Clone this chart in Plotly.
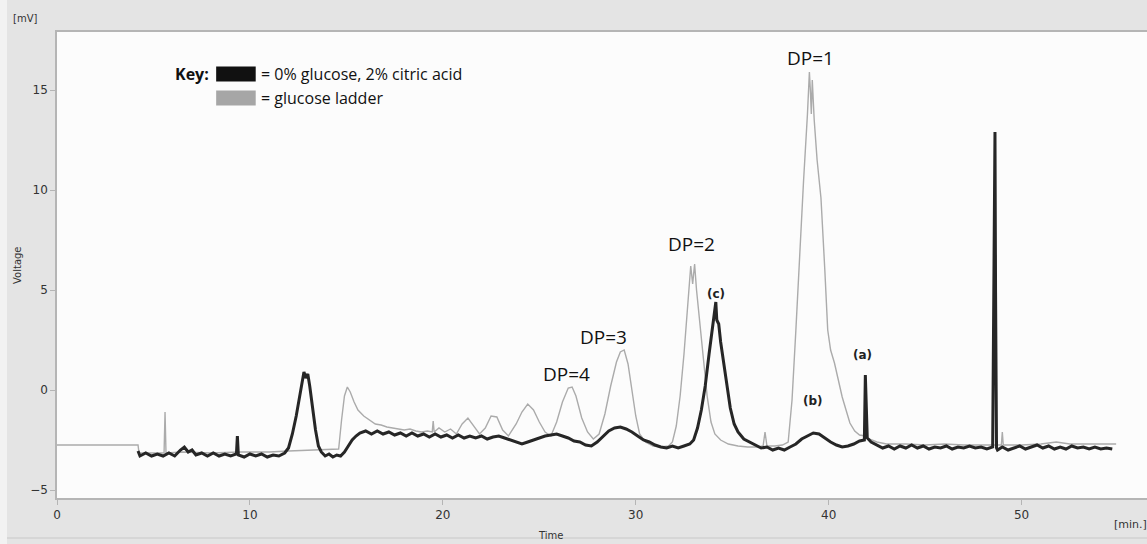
import plotly.graph_objects as go

# ---- data ----
gray_t = [0, 4.2, 4.25, 5.0, 5.55, 5.6, 5.65, 6.5, 8.0, 9.5, 11.0, 12.0, 13.0, 14.0, 14.6,
          14.75, 14.9, 15.05, 15.2, 15.4, 15.6, 15.9, 16.2, 16.5, 16.8, 17.1, 17.4, 17.7, 18.0,
          18.3, 18.6, 18.9, 19.2, 19.45, 19.5, 19.55, 19.8, 20.1, 20.4, 20.7, 21.0, 21.3, 21.6,
          21.9, 22.2, 22.5, 22.8, 23.1, 23.4, 23.8, 24.1, 24.4, 24.7, 25.0, 25.3, 25.6, 25.9,
          26.2, 26.5, 26.7, 26.9, 27.2, 27.5, 27.8, 28.1, 28.4, 28.7, 29.0, 29.2, 29.4, 29.6,
          29.8, 30.0, 30.2, 30.5, 30.9, 31.3, 31.7, 31.9, 32.1, 32.3, 32.5, 32.7, 32.85, 32.95,
          33.05, 33.15, 33.3, 33.5, 33.7, 33.9, 34.1, 34.4, 34.8, 35.3, 35.8, 36.3, 36.6, 36.7,
          36.8, 37.2, 37.6, 37.9, 38.1, 38.3, 38.5, 38.7, 38.9, 39.0, 39.05, 39.1, 39.15, 39.25,
          39.4, 39.6, 39.8, 39.95, 40.1, 40.3, 40.5, 40.7, 40.9, 41.1, 41.35, 41.6, 41.9, 42.1,
          42.5, 43.0, 44.0, 45.0, 46.0, 47.0, 48.0, 48.95, 49.0, 49.05, 50.0, 51.0, 51.8, 52.5,
          53.5, 54.9]
gray_v = [-2.75, -2.75, -3.15, -3.15, -3.15, -1.1, -3.15, -3.1, -3.15, -3.1, -3.1, -3.05, -3.0,
          -2.95, -2.95, -1.5, -0.3, 0.15, -0.1, -0.6, -1.0, -1.3, -1.5, -1.7, -1.75, -1.85, -1.9,
          -1.95, -2.0, -1.95, -2.05, -2.1, -2.05, -2.1, -1.55, -2.1, -1.9, -2.1, -1.95, -2.2,
          -1.7, -1.4, -1.8, -2.2, -1.9, -1.3, -1.35, -2.0, -2.3, -1.7, -1.1, -0.7, -1.0, -1.6,
          -2.1, -2.3, -1.6, -0.6, 0.1, 0.15, -0.3, -1.4, -2.1, -2.45, -2.2, -1.2, 0.2, 1.4, 1.9,
          2.0, 1.3, 0.0, -1.3, -2.2, -2.6, -2.8, -2.85, -2.8, -2.6, -1.8, -0.3, 1.8, 4.2, 6.2,
          5.3, 6.3, 5.0, 3.5, 1.5, -0.3, -1.6, -2.2, -2.5, -2.7, -2.8, -2.85, -2.85, -2.8, -2.1,
          -2.8, -2.8, -2.75, -2.6, -0.5, 3.0, 7.0, 10.5, 13.8, 15.9, 15.0, 13.8, 15.5, 13.5,
          11.5, 9.6, 6.0, 3.0, 2.0, 1.35, 0.5, -0.35, -1.0, -1.65, -2.05, -2.25, -2.3, -2.45,
          -2.6, -2.7, -2.7, -2.75, -2.7, -2.75, -2.75, -2.75, -2.1, -2.75, -2.75, -2.7, -2.6,
          -2.7, -2.7, -2.7]

black_t = [4.2, 4.3, 4.6, 4.9, 5.2, 5.5, 5.8, 6.1, 6.4, 6.6, 6.8, 7.0, 7.2, 7.5, 7.8, 8.1, 8.4,
           8.7, 9.0, 9.3, 9.35, 9.4, 9.7, 10.0, 10.3, 10.6, 10.9, 11.2, 11.5, 11.8, 12.0, 12.2,
           12.4, 12.55, 12.7, 12.8, 12.9, 13.0, 13.1, 13.25, 13.4, 13.55, 13.7, 13.9, 14.1, 14.3,
           14.5, 14.7, 14.9, 15.1, 15.3, 15.5, 15.7, 16.0, 16.3, 16.6, 16.9, 17.2, 17.5, 17.8,
           18.1, 18.4, 18.7, 19.0, 19.3, 19.6, 19.9, 20.2, 20.5, 20.8, 21.1, 21.4, 21.7, 22.0,
           22.3, 22.6, 22.9, 23.2, 23.5, 23.8, 24.1, 24.4, 24.7, 25.0, 25.3, 25.6, 25.9, 26.2,
           26.5, 26.8, 27.1, 27.4, 27.7, 28.0, 28.3, 28.6, 28.9, 29.2, 29.5, 29.8, 30.1, 30.4,
           30.7, 31.0, 31.3, 31.6, 31.9, 32.2, 32.5, 32.8, 33.0, 33.2, 33.4, 33.6, 33.8, 33.95,
           34.05, 34.15, 34.2, 34.3, 34.4, 34.55, 34.7, 34.9, 35.1, 35.3, 35.6, 35.9, 36.2, 36.5,
           36.8, 37.1, 37.4, 37.7, 38.0, 38.3, 38.6, 38.9, 39.2, 39.5, 39.8, 40.1, 40.4, 40.7,
           41.0, 41.3, 41.6, 41.85, 41.9, 41.95, 42.0, 42.2, 42.5, 42.8, 43.1, 43.4, 43.7, 44.0,
           44.3, 44.6, 44.9, 45.2, 45.5, 45.8, 46.1, 46.4, 46.7, 47.0, 47.3, 47.6, 47.9, 48.2,
           48.5, 48.62, 48.65, 48.7, 48.75, 49.0, 49.3, 49.6, 49.9, 50.2, 50.5, 50.8, 51.1, 51.4,
           51.7, 52.0, 52.3, 52.6, 52.9, 53.2, 53.5, 53.8, 54.1, 54.4, 54.7, 54.9]
black_v = [-3.05, -3.3, -3.15, -3.3, -3.2, -3.3, -3.15, -3.3, -3.0, -2.85, -3.1, -3.0, -3.25,
           -3.15, -3.3, -3.15, -3.3, -3.2, -3.3, -3.2, -2.3, -3.25, -3.35, -3.2, -3.3, -3.2,
           -3.35, -3.25, -3.3, -3.15, -2.9, -2.2, -1.3, -0.4, 0.4, 0.9, 0.6, 0.8, 0.2, -0.9,
           -2.0, -2.8, -3.1, -3.3, -3.2, -3.35, -3.25, -3.3, -3.1, -2.8, -2.5, -2.3, -2.15,
           -2.05, -2.2, -2.05, -2.2, -2.1, -2.25, -2.15, -2.3, -2.15, -2.3, -2.2, -2.35, -2.2,
           -2.35, -2.25, -2.4, -2.25, -2.4, -2.3, -2.4, -2.3, -2.45, -2.35, -2.3, -2.4, -2.5,
           -2.6, -2.7, -2.6, -2.5, -2.4, -2.3, -2.25, -2.2, -2.3, -2.4, -2.55, -2.6, -2.75,
           -2.8, -2.6, -2.3, -2.05, -1.9, -1.85, -1.95, -2.1, -2.3, -2.5, -2.6, -2.75, -2.85,
           -2.9, -2.8, -2.9, -2.8, -2.7, -2.5, -1.9, -1.0, 0.2, 1.8, 2.9, 3.6, 4.4, 3.5, 3.3,
           2.4, 1.4, 0.3, -0.9, -1.7, -2.1, -2.45, -2.6, -2.75, -2.9, -2.85, -3.0, -2.9, -3.0,
           -2.85, -2.7, -2.45, -2.3, -2.15, -2.2, -2.4, -2.6, -2.75, -2.85, -2.8, -2.7, -2.55,
           -2.5, 0.75, -0.9, -2.4, -2.6, -2.75, -2.9, -2.8, -2.95, -2.8, -2.9, -2.75, -2.9,
           -2.8, -2.95, -2.85, -2.9, -2.8, -2.95, -2.85, -2.9, -2.8, -2.9, -2.85, -2.95, -2.85,
           12.9, 4.9, -2.9, -3.0, -2.85, -3.0, -2.9, -2.8, -2.95, -2.85, -2.75, -2.9, -2.8,
           -2.95, -2.85, -2.95, -2.8, -2.9, -2.85, -2.95, -2.85, -2.95, -2.9, -2.95]

peak_labels = ["DP=1", "DP=2", "DP=3", "DP=4"]
peak_label_t = [39.07, 32.9, 28.34, 26.4]
peak_label_v = [16.6, 7.3, 2.65, 0.8]

mark_labels = ["(c)", "(b)", "(a)"]
mark_t = [34.15, 39.17, 41.76]
mark_v = [4.8, -0.55, 1.75]

key_labels = ["= 0% glucose, 2% citric acid", "= glucose ladder"]
key_colors = ["#111111", "#a6a6a6"]

x_ticks = [0, 10, 20, 30, 40, 50]
y_ticks = [-5, 0, 5, 10, 15]

# ---- figure ----
fig = go.Figure()
fig.add_trace(go.Scatter(x=gray_t, y=gray_v, mode="lines",
                         line=dict(color="#ababab", width=1.4), name="glucose ladder",
                         showlegend=False))
fig.add_trace(go.Scatter(x=black_t, y=black_v, mode="lines",
                         line=dict(color="#262626", width=3.0), name="0% glucose, 2% citric acid",
                         showlegend=False))

annos = []
for lab, t, v in zip(peak_labels, peak_label_t, peak_label_v):
    annos.append(dict(x=t, y=v, xref="x", yref="y", text=lab, showarrow=False,
                      font=dict(family="Open Sans", size=19, color="#111")))
for lab, t, v in zip(mark_labels, mark_t, mark_v):
    annos.append(dict(x=t, y=v, xref="x", yref="y", text="<b>%s</b>" % lab, showarrow=False,
                      font=dict(family="DejaVu Sans", size=12, color="#222")))

# key
annos.append(dict(x=8.0, y=15.8, xref="x", yref="y", text="<b>Key:</b>", showarrow=False,
                  xanchor="right", font=dict(family="Open Sans", size=16, color="#111")))
key_v = [15.8, 14.6]
shapes = []
for lab, col, v in zip(key_labels, key_colors, key_v):
    shapes.append(dict(type="rect", xref="x", yref="y", x0=8.25, x1=10.3, y0=v - 0.37,
                       y1=v + 0.37, fillcolor=col, line=dict(width=0)))
    annos.append(dict(x=10.45, y=v, xref="x", yref="y", text=lab, showarrow=False,
                      xanchor="left", font=dict(family="Open Sans", size=16, color="#111")))

# axis captions (pixel positions, converted below)
annos.append(dict(x=25, y=18, xref="paper", yref="paper", text="[mV]", showarrow=False,
                  font=dict(family="DejaVu Sans", size=10, color="#333")))
annos.append(dict(x=550, y=535, xref="paper", yref="paper", text="Time", showarrow=False,
                  font=dict(family="DejaVu Sans", size=10, color="#333")))
annos.append(dict(x=1130, y=524, xref="paper", yref="paper", text="[min.]", showarrow=False,
                  font=dict(family="DejaVu Sans", size=11, color="#333")))
annos.append(dict(x=17, y=265, xref="paper", yref="paper", text="Voltage", showarrow=False,
                  textangle=-90, font=dict(family="DejaVu Sans", size=10, color="#333")))

L, T, R, B = 57, 32, 0, 46
W, H = 1147, 544
pw, ph = W - L - R, H - T - B
for a in annos:
    if a["xref"] == "paper":
        a["x"] = (a["x"] - L) / pw
        a["y"] = (H - B - a["y"]) / ph
        a["xanchor"] = "center"
        a["yanchor"] = "middle"

shapes.append(dict(type="rect", xref="paper", yref="paper", x0=(0 - L) / pw, x1=(7 - L) / pw,
                   y0=(H - B - 544) / ph, y1=(H - B - 0) / ph, fillcolor="#f2f2f2",
                   line=dict(width=0), layer="below"))
shapes.append(dict(type="line", xref="paper", yref="paper", x0=(7 - L) / pw, x1=1,
                   y0=(H - B - 538) / ph, y1=(H - B - 538) / ph,
                   line=dict(color="#c8c8c8", width=1)))

fig.update_layout(
    width=W, height=H,
    margin=dict(l=L, r=R, t=T, b=B),
    paper_bgcolor="#e4e4e4",
    plot_bgcolor="#fcfcfc",
    annotations=annos,
    shapes=shapes,
    showlegend=False,
    xaxis=dict(range=[0, 56.5], tickvals=x_ticks, showgrid=False, zeroline=False,
               showline=True, linecolor="#b5b5b5", linewidth=1.5, mirror=True,
               ticks="outside", ticklen=5, tickcolor="#b5b5b5", automargin=False,
               tickfont=dict(family="DejaVu Sans", size=12, color="#333")),
    yaxis=dict(range=[-5.4, 17.9], tickvals=y_ticks, showgrid=False, zeroline=False,
               showline=True, linecolor="#b5b5b5", linewidth=1.5, mirror=True,
               ticks="outside", ticklen=5, tickcolor="#b5b5b5", automargin=False,
               tickfont=dict(family="DejaVu Sans", size=12, color="#333")),
)

fig.write_html("out.html", config={"displayModeBar": False},
               post_script="document.body.style.margin='0';")
